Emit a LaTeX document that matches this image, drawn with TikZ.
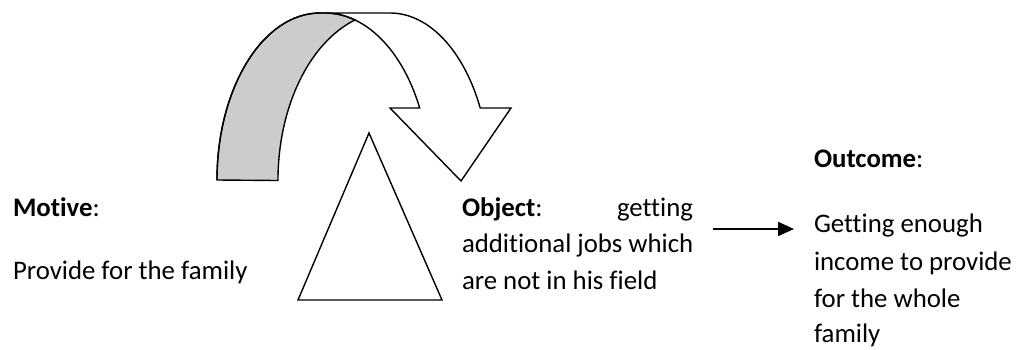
\documentclass[tikz,border=0pt]{standalone}
\usepackage{fontspec}
\setmainfont{Carlito}[Ligatures={NoCommon}]
\usetikzlibrary{arrows.meta}
\begin{document}
\begin{tikzpicture}[x=1pt,y=1pt,
  shape line/.style={draw=black,line width=1.4pt,line join=miter},
  txt/.style={anchor=base west,inner sep=0pt,outer sep=0pt,font=\fontsize{26.8}{36.7}\selectfont},
  link/.style={draw=black,line width=2pt,-{Triangle[length=16pt,width=14pt]}}]
\useasboundingbox (0,0) rectangle (1018,349);
% back (shaded) band of the curved arrow
\fill[gray!40,shape line] (217,169) arc[start angle=180,end angle=90,x radius=103,y radius=167]
  -- (325,336) arc[start angle=90,end angle=73.4,x radius=105,y radius=167]
  arc[start angle=108.2,end angle=180,x radius=112,y radius=169] -- cycle;
% outline of the curved arrow
\draw[shape line] (217,169) arc[start angle=180,end angle=90,x radius=103,y radius=167]
  -- (390,336) arc[start angle=90,end angle=25.54,x radius=100,y radius=167]
  -- (511,241) -- (461,168) -- (390,241) -- (419.7,241)
  arc[start angle=25.54,end angle=90,x radius=105,y radius=167];
% triangle
\draw[shape line] (369,216) -- (298,49) -- (442,49) -- cycle;
% texts
\node[txt] (motive) at (13,133) {\textbf{Motive}:};
\node[txt] (motivetext) at (13,70) {Provide for the family};
\node[txt] (obj1) at (462,133) {\hbox to 231pt{\textbf{Object}:\hfill getting}};
\node[txt] (obj2) at (462,97) {additional jobs which};
\node[txt] (obj3) at (462,60) {are not in his field};
\node[txt] (outc) at (814,182) {\textbf{Outcome}:};
\node[txt] (out1) at (814,117) {Getting enough};
\node[txt] (out2) at (814,79) {income to provide};
\node[txt] (out3) at (814,42) {for the whole};
\node[txt] (out4) at (814,7) {family};
% connector
\coordinate (as) at (713,120);
\coordinate (ae) at (794,120);
\draw[link] (as) -- (ae);
\end{tikzpicture}
\end{document}
